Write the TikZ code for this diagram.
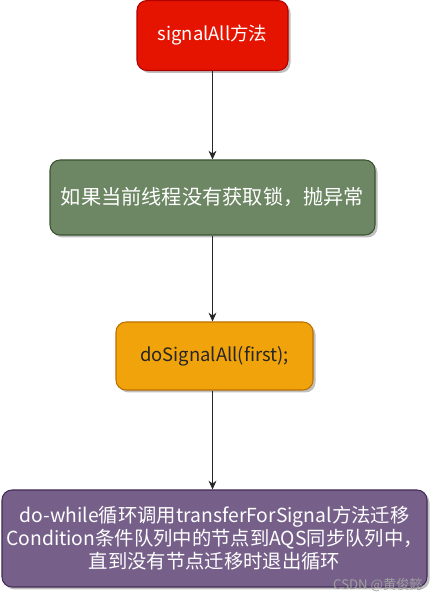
\documentclass[tikz,border=0pt]{standalone}
\usepackage{fontspec}
\setmainfont{Noto Sans CJK SC}
\usetikzlibrary{arrows.meta,shadows}

\definecolor{redfill}{HTML}{E51400}
\definecolor{redline}{HTML}{B20000}
\definecolor{greenfill}{HTML}{6D8764}
\definecolor{greenline}{HTML}{3A5431}
\definecolor{orangefill}{HTML}{F0A30A}
\definecolor{orangeline}{HTML}{BD7000}
\definecolor{purplefill}{HTML}{76608A}
\definecolor{purpleline}{HTML}{432D57}

\tikzset{
  stepbox/.style={draw, rounded corners=0.2cm, line width=0.6pt, inner sep=0pt,
    align=center, font=\fontsize{10.5}{13}\selectfont,
    drop shadow={shadow xshift=0.05cm, shadow yshift=-0.05cm, opacity=0.25, fill=black}},
  flow/.style={-{Stealth[length=5pt,width=4.5pt]}, line width=0.6pt, draw=black!85},
}

\begin{document}
\begin{tikzpicture}
\useasboundingbox (0,0) rectangle (8.8,12.04);
\node[stepbox, fill=redfill, draw=redline, text=white,
  minimum width=3.02cm, minimum height=1.40cm] (s1) at (4.25,11.33) {signalAll方法};
\node[stepbox, fill=greenfill, draw=greenline, text=white,
  minimum width=6.5cm, minimum height=1.5cm] (s2) at (4.25,8.09) {\fontsize{11.5}{13}\selectfont 如果当前线程没有获取锁，抛异常};
\node[stepbox, fill=orangefill, draw=orangeline, text=black!85,
  minimum width=3.94cm, minimum height=1.36cm] (s3) at (4.29,4.92) {doSignalAll(first);};
\node[stepbox, fill=purplefill, draw=purpleline, text=white, font=\fontsize{11}{13}\selectfont,
  minimum width=8.5cm, minimum height=1.94cm] (s4) at (4.29,1.27)
  {do-while循环调用transferForSignal方法迁移\\Condition条件队列中的节点到AQS同步队列中，\\直到没有节点迁移时退出循环};
\node[text=gray!75, font=\fontsize{7.5}{9}\selectfont, anchor=east, inner sep=0pt] (csdn) at (8.46,0.34) {CSDN @黄俊懿};

\draw[flow] (s1.south) -- (s2.north);
\draw[flow] (s2.south) -- (s2.south |- s3.north);
\draw[flow] (s2.south |- s3.south) -- (s2.south |- s4.north);
\end{tikzpicture}
\end{document}
